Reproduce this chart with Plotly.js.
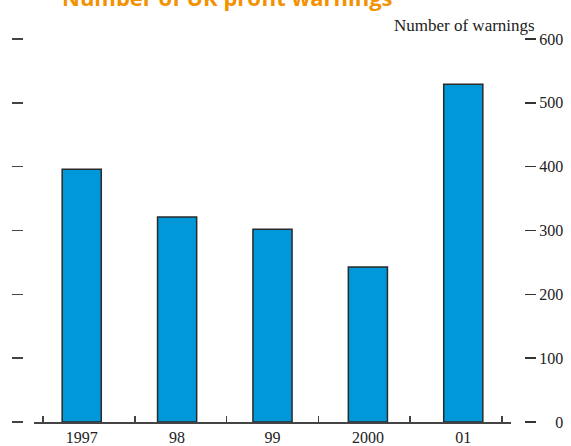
<!DOCTYPE html>
<html>
<head>
<meta charset="utf-8">
<script src="https://cdn.plot.ly/plotly-3.0.1.min.js"></script>
<style>html,body{margin:0;padding:0;background:#fff;}#chart{width:571px;height:446px;}</style>
</head>
<body>
<div id="chart"></div>
<script>
const categories = ['1997', '98', '99', '2000', '01'];
const warnings = [396, 321, 302, 243, 529];
const yTickVals = [0, 100, 200, 300, 400, 500, 600];
const yTickText = ['\u2007\u20070', '100', '200', '300', '400', '500', '600'];
const boundaryTicks = [-0.5, 0.5, 1.5, 2.5, 3.5, 4.5];
const titleText = 'Number of UK profit warnings';
const unitText = 'Number of warnings';

const serif = 'Liberation Serif, Times New Roman, serif';

const data = [
  {
    type: 'bar',
    x: categories,
    y: warnings,
    marker: {color: '#0098d8', line: {color: '#2a2a2a', width: 1.5}},
    hoverinfo: 'skip'
  },
  {
    type: 'scatter', mode: 'markers', x: [categories[0]], y: [0], yaxis: 'y2',
    marker: {opacity: 0}, hoverinfo: 'skip', showlegend: false
  },
  {
    type: 'scatter', mode: 'markers', x: [0], y: [0], xaxis: 'x2',
    marker: {opacity: 0}, hoverinfo: 'skip', showlegend: false
  }
];

const layout = {
  width: 571, height: 446,
  margin: {l: 23, r: 47, t: 38.5, b: 23.5},
  paper_bgcolor: '#fff', plot_bgcolor: '#fff',
  showlegend: false,
  bargap: 0.59,
  annotations: [
    {
      text: '<b>' + titleText + '</b>', xref: 'paper', yref: 'paper', x: 0.074, xanchor: 'left',
      y: 1.066, yanchor: 'bottom', showarrow: false,
      font: {family: 'Open Sans, sans-serif', size: 22, color: '#f39200'}
    },
    {
      text: unitText, xref: 'paper', yref: 'paper', x: 1.026, xanchor: 'right',
      y: 1.035, yanchor: 'middle', showarrow: false,
      font: {family: serif, size: 17, color: '#222'}
    }
  ],
  xaxis: {
    domain: [0.022, 0.974],
    type: 'category',
    showline: true, linecolor: '#444', linewidth: 1.5,
    ticks: '',
    showgrid: false, zeroline: false,
    tickfont: {family: serif, size: 16, color: '#222'},
    automargin: false
  },
  xaxis2: {
    domain: [0.0029, 0.993],
    overlaying: 'x', anchor: 'y', side: 'bottom',
    range: [-0.6, 4.6], tickvals: boundaryTicks, showticklabels: false,
    ticks: 'inside', ticklen: 6, tickcolor: '#444', tickwidth: 1.5,
    showline: false, showgrid: false, zeroline: false, automargin: false
  },
  yaxis: {
    range: [0, 600], side: 'right', anchor: 'free', position: 1,
    tickvals: yTickVals, ticktext: yTickText,
    ticks: 'outside', ticklen: 11, tickcolor: '#333', tickwidth: 1.5,
    showline: false, showgrid: false, zeroline: false,
    tickfont: {family: serif, size: 16, color: '#222'},
    automargin: false
  },
  yaxis2: {
    range: [0, 600], overlaying: 'y', side: 'left', anchor: 'free', position: 0,
    tickvals: yTickVals, showticklabels: false,
    ticks: 'outside', ticklen: 11, tickcolor: '#444', tickwidth: 1.5,
    showline: false, showgrid: false, zeroline: false, automargin: false
  }
};

Plotly.newPlot('chart', data, layout, {displayModeBar: false, staticPlot: true});
</script>
</body>
</html>
